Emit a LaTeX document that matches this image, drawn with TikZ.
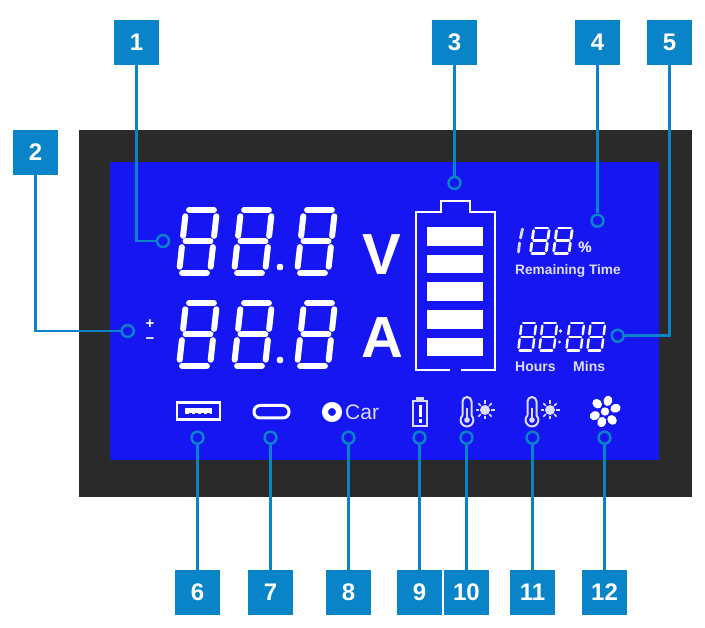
\documentclass[tikz,border=0pt]{standalone}
\usepackage{fontspec}
\setmainfont{Liberation Sans}

\definecolor{casecol}{HTML}{2A2A2A}
\definecolor{lcdcol}{HTML}{1616F2}
\definecolor{callcol}{HTML}{0A84C8}
\definecolor{lcdtext}{HTML}{DCDCFF}

\tikzset{
    badge/.style={fill=callcol,text=white,minimum size=45pt,inner sep=0pt,font=\fontsize{24}{24}\selectfont\bfseries},
    calldot/.style={circle,draw=callcol,line width=2.4pt,minimum size=12pt,inner sep=0pt},
    callline/.style={draw=callcol,line width=2.6pt},
    lcdline/.style={draw=white,line width=2.4pt},
    segline/.style={draw=white,line cap=round},
}

% x, y, width, height, slant, line width
\newcommand{\segdigit}[6]{
    \foreach \xa/\ya/\xb/\yb in {.1/0/.9/0,1/.1/1/.41,1/.59/1/.9,.1/1/.9/1,0/.59/0/.9,0/.1/0/.41,.1/.5/.9/.5}
        \draw[segline,line width=#6] ({#1+#3*\xa+#5*(1-\ya)},{#2+#4*\ya}) -- ({#1+#3*\xb+#5*(1-\yb)},{#2+#4*\yb});
}

% bulb x, sun x
\newcommand{\thermosun}[2]{
    \draw[draw=lcdtext,line width=2pt] (#1-4.5,415.5) -- (#1-4.5,401.5) arc[start angle=180,end angle=360,radius=4.5] -- (#1+4.5,415.5) arc[start angle=-45,end angle=225,radius=6.4];
    \draw[fill=lcdtext,draw=none] (#1,420) circle(2.8);
    \draw[draw=lcdtext,line width=1.4pt] (#1,420) -- (#1,408);
    \draw[fill=lcdtext,draw=none] (#2,410) circle(5);
    \foreach \a in {0,45,...,315}
        \draw[draw=lcdtext,line width=1.6pt] (#2,410) ++(\a:6) -- ++(\a:3.5);
}

\begin{document}
\begin{tikzpicture}[x=1pt,y=-1pt]
    \useasboundingbox (0,0) rectangle (705,628);

    \draw[draw=none,fill=casecol] (79,130) rectangle (692,497);
    \draw[draw=none,fill=lcdcol] (110,162) rectangle (659,460);

    % voltage and current
    \foreach \y in {207,300} {
        \foreach \x in {176,231,294}
            \segdigit{\x+3}{\y+3}{31}{63}{7}{6pt}
        \draw[draw=none,fill=white] (280,\y+60) circle(3.2);
    }
    \node[anchor=base,inner sep=0pt,text=white,font=\fontsize{58}{58}\selectfont\bfseries] (voltunit) at (382,275) {V};
    \node[anchor=base,inner sep=0pt,text=white,font=\fontsize{58}{58}\selectfont\bfseries] (ampunit) at (382,358) {A};
    \node[inner sep=0pt,text height=8pt,text depth=0pt,text=white,font=\fontsize{15}{15}\selectfont\bfseries] (plussign) at (150,324.5) {+};
    \node[inner sep=0pt,text height=8pt,text depth=0pt,text=white,font=\fontsize{15}{15}\selectfont\bfseries] (minussign) at (150,339.5) {−};

    % battery
    \draw[lcdline] (450,370) -- (416,370) -- (416,212) -- (441,212) -- (441,201) -- (470,201) -- (470,212) -- (495,212) -- (495,370) -- (461,370);
    \foreach \y in {227,254.7,282.4,310,337.7}
        \draw[draw=none,fill=white] (427,\y) rectangle ++(56,18.6);

    % remaining time
    \draw[segline,draw=lcdtext,line width=2.8pt] (522.5,229) -- (520.5,238);
    \draw[segline,draw=lcdtext,line width=2.8pt] (519.5,243) -- (518.5,252);
    \foreach \x in {529,552}
        \segdigit{\x+1.4}{228}{15.5}{25.5}{3.5}{2.8pt}
    \node[inner sep=0pt,text=lcdtext,font=\fontsize{15}{15}\selectfont\bfseries] (percent) at (585,247) {\%};
    \node[anchor=base west,inner sep=0pt,text=lcdtext,font=\fontsize{13.7}{13.7}\selectfont\bfseries] (remaining) at (515,274.5) {Remaining Time};

    \foreach \x in {517,538,565,586}
        \segdigit{\x+1.2}{323}{14.5}{27.5}{3.5}{2.4pt}
    \draw[draw=none,fill=lcdtext] (560.5,331) circle(1.6);
    \draw[draw=none,fill=lcdtext] (559.5,342) circle(1.6);
    \node[anchor=base west,inner sep=0pt,text=lcdtext,font=\fontsize{14}{14}\selectfont\bfseries] (hours) at (515,371.5) {Hours};
    \node[anchor=base west,inner sep=0pt,text=lcdtext,font=\fontsize{14}{14}\selectfont\bfseries] (mins) at (573,371.5) {Mins};

    % icons
    \draw[draw=white,line width=2.4pt] (177,402.5) rectangle (220,419.5);
    \draw[draw=none,fill=white] (185,408.5) rectangle (212,414);
    \foreach \x in {189,195,201,207}
        \draw[draw=none,fill=lcdcol] (\x,413) rectangle ++(2.5,1);
    \draw[draw=white,line width=3pt,rounded corners=6pt] (254,405.5) rectangle (289,418);

    \draw[draw=white,line width=6pt] (332,412) circle(7);
    \node[anchor=west,inner sep=0pt,text=lcdtext,font=\fontsize{21}{21}\selectfont] (cartext) at (345,412) {Car};

    \draw[draw=lcdtext,line width=2pt] (413,401) rectangle (427,426);
    \draw[draw=none,fill=lcdtext] (416,397.5) rectangle (424,400);
    \draw[draw=none,fill=white] (418.5,405) rectangle (421.5,417);
    \draw[draw=none,fill=white] (418.5,419.5) rectangle (421.5,423);

    \thermosun{467}{485}
    \thermosun{532}{550}

    \draw[draw=none,fill=white] (605,411.5) circle(4.2);
    \foreach \a in {-107,-50,17,75,135,-158}
        \draw[draw=none,fill=white,rotate around={\a:(605,411.5)}] (616,411.5) ellipse(5.2 and 4.4);

    % callouts
    \foreach \n/\x/\y in {1/136.5/42.5,2/35.5/152.5,3/454.5/42.5,4/597.5/42.5,5/669.5/42.5,6/197.5/592.5,7/270.5/592.5,8/348.5/592.5,9/419.5/592.5,10/466.5/592.5,11/532.5/592.5,12/604.5/592.5}
        \node[badge] (badge\n) at (\x,\y) {\n};

    \foreach \n/\x/\y in {1/163/241,2/127.7/331,3/454.5/183,4/597.5/220.7,5/617.7/335.7,6/197.5/437.7,7/270.5/437.7,8/348.5/437.7,9/419.5/437.7,10/466.5/437.7,11/532.5/437.7,12/604.5/437.7}
        \node[calldot] (dot\n) at (\x,\y) {};

    \draw[callline] (badge1) |- (dot1);
    \draw[callline] (badge2) |- (dot2);
    \draw[callline] (badge5) |- (dot5);
    \foreach \n in {3,4,6,7,8,9,10,11,12}
        \draw[callline] (badge\n) -- (dot\n);
\end{tikzpicture}
\end{document}
